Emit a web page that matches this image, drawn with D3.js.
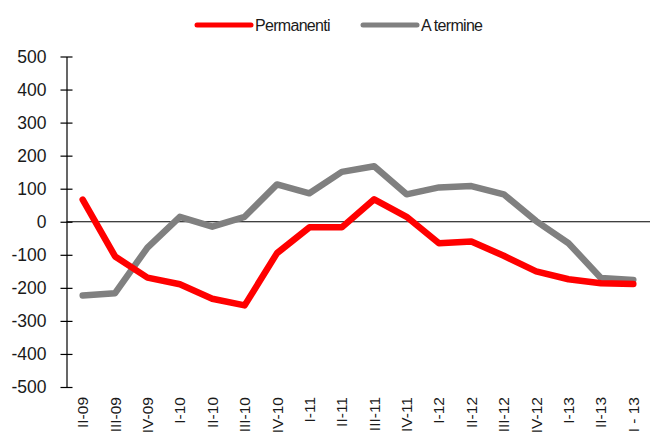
<!DOCTYPE html>
<html>
<head>
<meta charset="utf-8">
<script src="https://cdn.jsdelivr.net/npm/d3@7"></script>
<style>
  body { margin: 0; background: #fff; }
  svg { display: block; font-family: "Liberation Sans", Arial, sans-serif; }
</style>
</head>
<body>
<svg width="654" height="434"></svg>
<script>
// quarters (as labelled in the chart)
const quarters = ['II-09', 'III-09', 'IV-09', 'I-10', 'II-10', 'III-10', 'IV-10',
  'I-11', 'II-11', 'III-11', 'IV-11', 'I-12', 'II-12', 'III-12', 'IV-12',
  'I-13', 'II-13', 'I - 13'];

const permanenti = [67, -105, -169, -189, -233, -253, -95, -17, -17, 68, 15,
  -65, -60, -103, -150, -174, -186, -188];
const aTermine = [-223, -216, -78, 15, -15, 15, 113, 86, 151, 168, 83,
  104, 108, 83, 2, -65, -170, -176];

const yTicks = [500, 400, 300, 200, 100, 0, -100, -200, -300, -400, -500];

const series = [
  { name: 'Permanenti', values: permanenti, color: '#ff0000' },
  { name: 'A termine', values: aTermine, color: '#808080' }
];

const svg = d3.select('svg');

const x = d3.scaleBand().domain(quarters).range([66.5, 649.5]);
const y = d3.scaleLinear().domain([-500, 500]).range([387, 56.5]);

// zero line
svg.append('line')
  .attr('x1', 66.5).attr('x2', 650)
  .attr('y1', y(0)).attr('y2', y(0))
  .attr('stroke', '#000').attr('stroke-width', 1);

// y axis (plain hyphen for negatives, like the original)
const yAxis = svg.append('g')
  .attr('transform', 'translate(66.5,0)')
  .call(d3.axisLeft(y).tickValues(yTicks).tickFormat(d => String(d))
    .tickSize(6).tickSizeOuter(0).tickPadding(14));
yAxis.select('.domain').attr('stroke', '#000').attr('stroke-width', 1.2);
yAxis.selectAll('.tick line').attr('x2', 6).attr('x1', -6).attr('stroke', '#000').attr('stroke-width', 1.2);
yAxis.selectAll('.tick text')
  .attr('font-size', 17.5)
  .attr('fill', '#1a1a1a')
  .attr('font-family', '"Liberation Sans", Arial, sans-serif');

// x labels, rotated
svg.append('g')
  .selectAll('text')
  .data(quarters)
  .join('text')
  .attr('transform', d => `translate(${x(d) + x.bandwidth() / 2},397) rotate(-90)`)
  .attr('text-anchor', 'end')
  .attr('dominant-baseline', 'central')
  .attr('font-size', 15.5)
  .attr('fill', '#1a1a1a')
  .text(d => d);

// lines
const line = d3.line()
  .x((d, i) => x(quarters[i]) + x.bandwidth() / 2)
  .y(d => y(d));

series.slice().reverse().forEach(s => {
  svg.append('path')
    .attr('d', line(s.values))
    .attr('fill', 'none')
    .attr('stroke', s.color)
    .attr('stroke-width', 6.5)
    .attr('stroke-linejoin', 'round')
    .attr('stroke-linecap', 'round');
});

// legend
const legendPos = [197, 363];
series.forEach((s, i) => {
  const g = svg.append('g').attr('transform', `translate(${legendPos[i]},25)`);
  g.append('line')
    .attr('x1', 0).attr('x2', 54)
    .attr('stroke', s.color)
    .attr('stroke-width', 5)
    .attr('stroke-linecap', 'round');
  g.append('text')
    .attr('x', 58)
    .attr('dominant-baseline', 'central')
    .attr('font-size', 16)
    .attr('letter-spacing', -0.7)
    .attr('fill', '#1a1a1a')
    .text(s.name);
});
</script>
</body>
</html>
